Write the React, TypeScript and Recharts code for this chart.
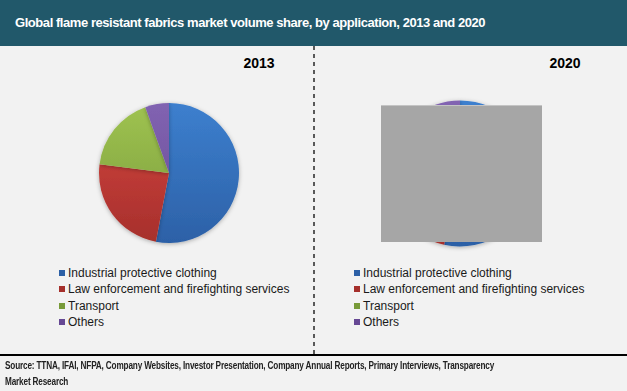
import React from 'react';
import { PieChart, Pie, Cell } from 'recharts';

// chart values
const categories = [
  'Industrial protective clothing',
  'Law enforcement and firefighting services',
  'Transport',
  'Others',
];
const share2013 = [53, 24, 17.5, 5.5];
const share2020 = [53.5, 23.5, 17.5, 5.5];
const years = ['2013', '2020'];

const colors = [
  ['#3d80cf', '#2c60a6'],
  ['#d64641', '#a52f2b'],
  ['#a0c452', '#789a38'],
  ['#8264b2', '#664894'],
];

const title = 'Global flame resistant fabrics market volume share, by application, 2013 and 2020';
const source =
  'Source: TTNA, IFAI, NFPA, Company Websites, Investor Presentation, Company Annual Reports, Primary Interviews, Transparency Market Research';

const toRows = (vals: number[]) => categories.map((name, i) => ({ name, value: vals[i] }));

const Legend: React.FC<{ left: number }> = ({ left }) => (
  <div style={{ position: 'absolute', left, top: 265 }}>
    {categories.map((c, i) => (
      <div key={c} style={{ display: 'flex', alignItems: 'center', height: 16.3 }}>
        <span style={{ width: 6, height: 6, background: colors[i][1], marginRight: 3, display: 'inline-block' }} />
        <span style={{ fontSize: 12, color: '#1a1a1a' }}>{c}</span>
      </div>
    ))}
  </div>
);

const App: React.FC = () => {
  return (
    <div
      style={{
        position: 'absolute',
        left: 0,
        top: 0,
        width: 627,
        height: 391,
        background: '#f2f2f2',
        fontFamily: 'Arial, "Liberation Sans", sans-serif',
        overflow: 'hidden',
      }}
    >
      <div
        style={{
          position: 'absolute', left: 0, top: 0, width: 627, height: 46, background: '#21586a',
          color: '#fff', fontWeight: 'bold', fontSize: 13, lineHeight: '46px', paddingLeft: 15,
          boxSizing: 'border-box', letterSpacing: -0.44, whiteSpace: 'nowrap',
        }}
      >
        {title}
      </div>

      <div style={{ position: 'absolute', left: 229, top: 55, width: 60, textAlign: 'center', fontWeight: 'bold', fontSize: 14 }}>{years[0]}</div>
      <div style={{ position: 'absolute', left: 535, top: 55, width: 60, textAlign: 'center', fontWeight: 'bold', fontSize: 14 }}>{years[1]}</div>

      <svg width={4} height={308} style={{ position: 'absolute', left: 312, top: 46 }}>
        <line x1={2} y1={0} x2={2} y2={308} stroke="#333" strokeWidth={1.6} strokeDasharray="4 4" />
      </svg>

      <PieChart width={627} height={391} margin={{ top: 0, right: 0, bottom: 0, left: 0 }} style={{ position: 'absolute', left: 0, top: 0 }}>
        <defs>
          {colors.map((c, i) => (
            <linearGradient key={i} id={`g${i}`} x1="0" y1="100" x2="0" y2="246" gradientUnits="userSpaceOnUse">
              <stop offset="0%" stopColor={c[0]} />
              <stop offset="100%" stopColor={c[1]} />
            </linearGradient>
          ))}
          <filter id="sh" x="-20%" y="-20%" width="140%" height="140%">
            <feDropShadow dx="0" dy="1" stdDeviation="2" floodColor="#000" floodOpacity="0.3" />
          </filter>
        </defs>
        <Pie
          data={toRows(share2013)}
          dataKey="value"
          cx={169}
          cy={173}
          outerRadius={70}
          startAngle={90}
          endAngle={-270}
          stroke="none"
          isAnimationActive={false}
          style={{ filter: 'url(#sh)' }}
        >
          {share2013.map((_, i) => (
            <Cell key={i} fill={`url(#g${i})`} />
          ))}
        </Pie>
        <Pie
          data={toRows(share2020)}
          dataKey="value"
          cx={460}
          cy={173.5}
          outerRadius={73}
          startAngle={90}
          endAngle={-270}
          stroke="none"
          isAnimationActive={false}
          style={{ filter: 'url(#sh)' }}
        >
          {share2020.map((_, i) => (
            <Cell key={i} fill={`url(#g${i})`} />
          ))}
        </Pie>
      </PieChart>

      <div style={{ position: 'absolute', left: 381, top: 105, width: 161, height: 137, background: '#a6a6a6', borderTop: '1px solid #c4c4c4', boxSizing: 'border-box' }} />

      <Legend left={59} />
      <Legend left={354} />

      <div style={{ position: 'absolute', left: 0, top: 354, width: 627, height: 2, background: '#000' }} />
      <div
        style={{
          position: 'absolute', left: 5, top: 358, width: 610, fontSize: 10, fontWeight: 'bold',
          color: '#222', lineHeight: '16px', letterSpacing: -0.2, transform: 'scaleX(0.82)', transformOrigin: 'left top',
        }}
      >
        {source}
      </div>
    </div>
  );
};

export default App;
